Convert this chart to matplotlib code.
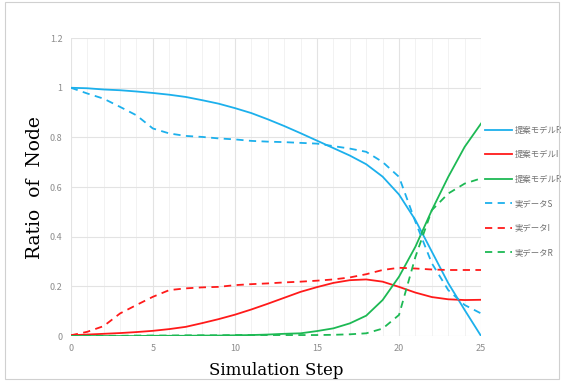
import matplotlib.pyplot as plt
from matplotlib.patches import Rectangle
from matplotlib.ticker import MultipleLocator, FuncFormatter

plt.rcParams['font.family'] = ['Noto Sans CJK JP', 'DejaVu Sans']

steps = list(range(26))

model_s = [1.0, 0.998, 0.993, 0.99, 0.985, 0.979, 0.972, 0.963, 0.95, 0.936, 0.918,
           0.898, 0.873, 0.846, 0.817, 0.787, 0.757, 0.727, 0.692, 0.642, 0.57,
           0.467, 0.34, 0.213, 0.105, 0.0]
model_i = [0.003, 0.006, 0.009, 0.012, 0.016, 0.021, 0.028, 0.037, 0.052, 0.068, 0.086,
           0.107, 0.13, 0.154, 0.178, 0.197, 0.214, 0.225, 0.228, 0.219, 0.198,
           0.175, 0.157, 0.148, 0.145, 0.146]
model_r = [0.0, 0.0, 0.0, 0.0, 0.0, 0.001, 0.001, 0.001, 0.002, 0.002, 0.003,
           0.004, 0.006, 0.009, 0.011, 0.02, 0.031, 0.051, 0.082, 0.145, 0.239,
           0.36, 0.507, 0.641, 0.762, 0.856]
real_s = [1.0, 0.977, 0.956, 0.923, 0.889, 0.836, 0.816, 0.806, 0.802, 0.796, 0.792,
          0.786, 0.783, 0.781, 0.778, 0.775, 0.765, 0.755, 0.742, 0.701, 0.641,
          0.46, 0.293, 0.185, 0.125, 0.091]
real_i = [0.003, 0.017, 0.04, 0.091, 0.125, 0.158, 0.185, 0.192, 0.196, 0.198, 0.205,
          0.209, 0.212, 0.216, 0.219, 0.223, 0.228, 0.236, 0.249, 0.266, 0.275,
          0.272, 0.268, 0.266, 0.266, 0.266]
real_r = [0.0, 0.001, 0.001, 0.001, 0.002, 0.002, 0.002, 0.003, 0.003, 0.003, 0.004,
          0.004, 0.004, 0.004, 0.004, 0.004, 0.005, 0.007, 0.011, 0.03, 0.085,
          0.319, 0.507, 0.574, 0.614, 0.635]

labels = ['提案モデルR', '提案モデルI', '提案モデルR', '実データS', '実データI', '実データR']

blue = '#1cb0ec'
red = '#ff1a1a'
green = '#1db954'

fig = plt.figure(figsize=(5.62, 3.81), dpi=100)
fig.patches.append(Rectangle((0.009, 0.005), 0.985, 0.99, transform=fig.transFigure,
                             fill=False, edgecolor='#d0d0d0', linewidth=0.8))
ax = fig.add_axes([0.126, 0.118, 0.73, 0.782])

series = [model_s, model_i, model_r, real_s, real_i, real_r]
colors = [blue, red, green, blue, red, green]
styles = ['-', '-', '-', '--', '--', '--']
for vals, c, ls, lab in zip(series, colors, styles, labels):
    ax.plot(steps, vals, color=c, linestyle=ls, linewidth=1.3, label=lab,
            dashes=(4, 3) if ls == '--' else (None, None))

ax.set_xlim(0, 25)
ax.set_ylim(0, 1.2)
ax.xaxis.set_major_locator(MultipleLocator(5))
ax.xaxis.set_minor_locator(MultipleLocator(1))
ax.yaxis.set_major_locator(MultipleLocator(0.2))
ax.yaxis.set_major_formatter(FuncFormatter(lambda v, p: f'{v:g}'))
ax.grid(which='major', color='#e3e3e3', linewidth=0.8)
ax.grid(which='minor', axis='x', color='#f0f0f0', linewidth=0.6)
ax.set_axisbelow(True)
for s in ax.spines.values():
    s.set_visible(False)
ax.tick_params(which='both', length=0, labelsize=6.5, labelcolor='#8c8c8c', pad=6)

ax.set_xlabel('Simulation Step', family='DejaVu Serif', fontsize=12, labelpad=6)
ax.set_ylabel('Ratio  of  Node', family='DejaVu Serif', fontsize=13.5, labelpad=4)

leg = ax.legend(loc='upper left', bbox_to_anchor=(0.995, 0.725), frameon=False,
                fontsize=6, labelspacing=1.85, handlelength=3.3, handletextpad=0.25,
                borderaxespad=0.3)
for t in leg.get_texts():
    t.set_color('#707070')

fig.savefig('out.png', dpi=100)
